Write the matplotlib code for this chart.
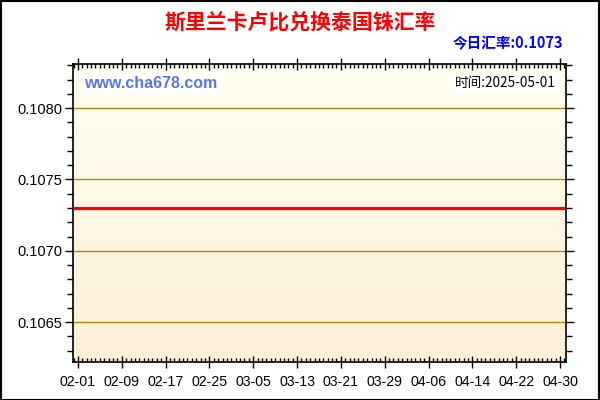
import matplotlib
matplotlib.use("Agg")
import matplotlib.pyplot as plt
import numpy as np
from matplotlib.ticker import MultipleLocator, FixedLocator, FixedFormatter
from matplotlib.patches import Rectangle

# Data
dates = ["01-31", "05-01"]          # first and last day of the series
day_offsets = [-1, 89]              # days relative to 02-01
rates = [0.1073, 0.1073]
tick_labels = ["02-01", "02-09", "02-17", "02-25", "03-05", "03-13",
               "03-21", "03-29", "04-06", "04-14", "04-22", "04-30"]
tick_days = [0, 8, 16, 24, 32, 40, 48, 56, 64, 72, 80, 88]
y_ticks = [0.1065, 0.1070, 0.1075, 0.1080]
title = "斯里兰卡卢比兑换泰国铢汇率"
current = "今日汇率:0.1073"
stamp = "时间:2025-05-01"
site = "www.cha678.com"

plt.rcParams['font.family'] = ['Liberation Sans', 'Noto Sans CJK SC', 'DejaVu Sans']

fig = plt.figure(figsize=(6, 4), dpi=100)
fig.patch.set_facecolor("white")
fig.add_artist(Rectangle((0.001, 0.001), 0.997, 0.997, transform=fig.transFigure,
                         fill=False, edgecolor="black", linewidth=1.5))

ax = fig.add_axes([73/600, 38/400, 493/600, 298/400])
xmin, xmax = -0.9, 89.1
ymin, ymax = 0.10622, 0.10831

# gradient background (light ivory at top, cream at bottom)
grad = np.linspace(0, 1, 256).reshape(-1, 1)
top = np.array([255, 255, 242]) / 255
bot = np.array([253, 240, 215]) / 255
img = top + (bot - top) * grad[:, :, None]
ax.imshow(img, extent=[xmin, xmax, ymin, ymax], origin="upper", aspect="auto", zorder=0)
ax.set_xlim(xmin, xmax)
ax.set_ylim(ymin, ymax)

for yv in y_ticks:
    ax.axhline(yv, color="#B8860B", linewidth=1.0, zorder=1)

ax.plot(day_offsets, rates, color="#FF0000", linewidth=2.3, zorder=3, solid_capstyle="butt")

ax.set_yticks(y_ticks)
ax.set_yticklabels([f"{v:.4f}" for v in y_ticks], fontsize=10.5)
ax.yaxis.set_minor_locator(MultipleLocator(0.0001))
ax.xaxis.set_major_locator(FixedLocator(tick_days))
ax.xaxis.set_major_formatter(FixedFormatter(tick_labels))
ax.xaxis.set_minor_locator(MultipleLocator(0.8))
for lbl in ax.get_xticklabels():
    lbl.set_fontsize(10.2)

ax.tick_params(axis="y", which="major", direction="out", length=6, width=1, pad=2,
               right=True, labelright=False)
ax.tick_params(axis="y", which="minor", direction="out", length=4, width=1, right=True)
ax.tick_params(axis="x", which="major", direction="inout", length=8, width=1, pad=5,
               top=True, labeltop=False)
ax.tick_params(axis="x", which="minor", direction="in", length=3, width=1, top=True)
for s in ax.spines.values():
    s.set_linewidth(1.2)
    s.set_color("black")

fig.text(0.5, 1 - 22/400, title, ha="center", va="center", color="#FF0000",
         fontsize=15, fontweight="bold", family=['Noto Sans CJK SC', 'DejaVu Sans'])
fig.text(563/600, 1 - 43/400, current, ha="right", va="center", color="#0000FF",
         fontsize=10.5, fontweight="bold", family=['Noto Sans CJK SC', 'DejaVu Sans'])
ax.text(0.022, 0.935, site, transform=ax.transAxes, ha="left", va="center",
        color="#5577EE", fontsize=11.5, fontweight="bold",
        bbox=dict(facecolor="white", edgecolor="none", pad=1.5), zorder=4)
ax.text(0.98, 0.935, stamp, transform=ax.transAxes, ha="right", va="center",
        color="black", fontsize=9.8, family=['Noto Sans CJK SC', 'DejaVu Sans'],
        bbox=dict(facecolor="white", edgecolor="none", pad=1), zorder=4)

fig.savefig("out.png", dpi=100)
